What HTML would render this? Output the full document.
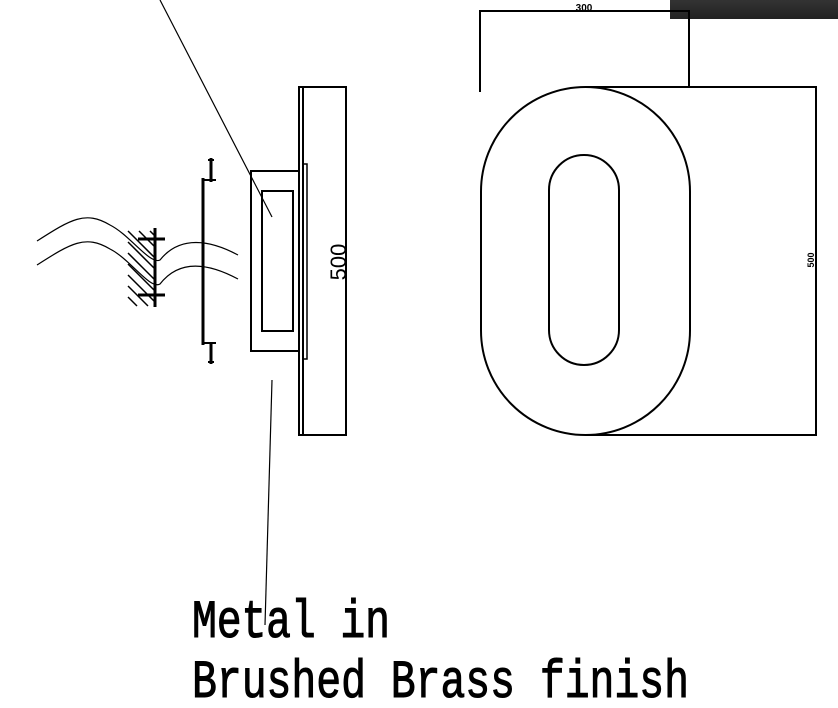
<!DOCTYPE html>
<html><head><meta charset="utf-8"><style>
html,body{margin:0;padding:0;background:#fff;width:838px;height:708px;overflow:hidden}
</style></head><body>
<svg width="838" height="708" viewBox="0 0 838 708" xmlns="http://www.w3.org/2000/svg">
<defs><linearGradient id="g" x1="0" y1="0" x2="0" y2="1"><stop offset="0" stop-color="#333"/><stop offset="1" stop-color="#222"/></linearGradient></defs>
<rect x="670" y="0" width="168" height="19" fill="url(#g)"/>
<g fill="none" stroke="#000" stroke-width="2">
<rect x="481" y="87" width="209" height="348" rx="104.5" ry="104.5"/>
<rect x="549" y="155" width="70" height="210" rx="35" ry="35"/>
<polyline points="480,92 480,11 689,11 689,87"/>
<line x1="585" y1="87" x2="817" y2="87"/>
<line x1="585" y1="435" x2="817" y2="435"/>
<line x1="816" y1="87" x2="816" y2="435"/>
<rect x="299" y="87" width="47" height="348"/>
<line x1="303" y1="87" x2="303" y2="435"/>
<rect x="303" y="164" width="4" height="195" stroke-width="1.5"/>
<rect x="251" y="171" width="48" height="180"/>
<rect x="262" y="191" width="31" height="140"/>
<line x1="203" y1="178" x2="203" y2="345" stroke-width="3"/>
<polyline points="203,180 216,180"/>
<polyline points="203,343 216,343"/>
<line x1="211" y1="158" x2="211" y2="182" stroke-width="3"/>
<line x1="211" y1="343" x2="211" y2="364" stroke-width="3"/>
<line x1="208" y1="160" x2="214" y2="160"/>
<line x1="208" y1="362" x2="214" y2="362"/>
<line x1="155" y1="228" x2="155" y2="307" stroke-width="3"/>
<line x1="138" y1="239" x2="165" y2="239" stroke-width="3"/>
<line x1="138" y1="295" x2="165" y2="295" stroke-width="3"/>
<g stroke-width="1.5">
<line x1="128" y1="231" x2="155" y2="258"/><line x1="128" y1="242" x2="155" y2="269"/>
<line x1="128" y1="253" x2="155" y2="280"/><line x1="128" y1="264" x2="155" y2="291"/>
<line x1="128" y1="275" x2="155" y2="302"/><line x1="128" y1="286" x2="148" y2="306"/>
<line x1="128" y1="297" x2="137" y2="306"/><line x1="139" y1="231" x2="155" y2="247"/>
<line x1="150" y1="231" x2="155" y2="236"/>
</g>
<g stroke-width="1.2">
<path d="M37,241 C70,220 85,210 110,225 C130,235 150,265 160,260 C180,235 210,240 238,255"/>
<path d="M37,265 C70,244 85,234 110,249 C130,259 150,290 160,284 C180,258 210,264 238,279"/>
<line x1="160" y1="0" x2="272" y2="217"/>
<line x1="272" y1="380" x2="265" y2="625"/>
</g>
</g>
<text x="0" y="0" transform="translate(346,262) rotate(-90)" text-anchor="middle" font-family="Liberation Sans, sans-serif" font-size="22">500</text>
<text x="0" y="0" transform="translate(814,260) rotate(-90)" text-anchor="middle" font-family="Liberation Sans, sans-serif" font-size="9" font-weight="bold">500</text>
<text x="584" y="11" text-anchor="middle" font-family="Liberation Sans, sans-serif" font-size="10" font-weight="bold">300</text>
<g font-family="Liberation Mono, monospace" font-size="41.5" stroke="#000" stroke-width="0.8">
<text transform="translate(192,637) scale(1,1.3)" x="0" y="0" textLength="198" lengthAdjust="spacing">Metal in</text>
<text transform="translate(192,697) scale(1,1.3)" x="0" y="0" textLength="497" lengthAdjust="spacing">Brushed Brass finish</text>
</g>
</svg>
</body></html>
